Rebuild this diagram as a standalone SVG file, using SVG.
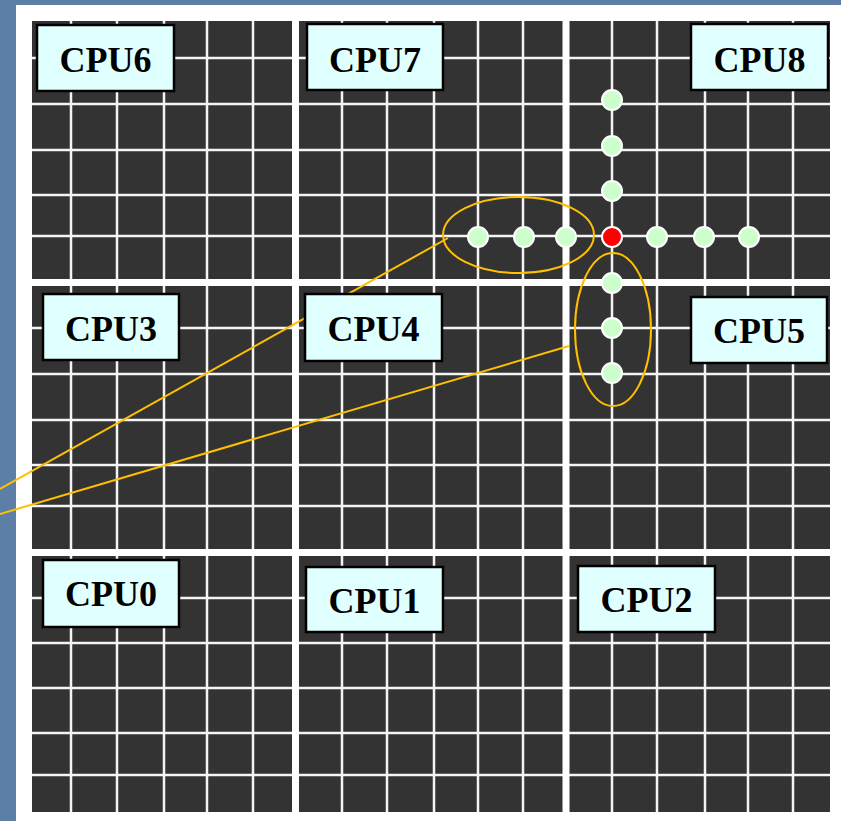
<svg xmlns="http://www.w3.org/2000/svg" width="841" height="821" viewBox="0 0 841 821">
<defs>
<style>
.grid{stroke:#f4f4f4;stroke-width:2.5;fill:none}
.gap{stroke:#ffffff;fill:none}
.lbl rect{fill:#e0ffff;stroke:#000;stroke-width:2.5}
.lbl text{font-family:"Liberation Serif","Times New Roman",serif;font-weight:bold;font-size:36px;fill:#000;text-anchor:middle}
.conn{stroke:#ffc000;stroke-width:2;fill:none}
.g{fill:#ccffcc;stroke:#fff;stroke-width:2}
.r{fill:#ff0000;stroke:#fff;stroke-width:2}
</style>
</defs>
<rect x="0" y="0" width="841" height="821" fill="#5d7ea7"/>
<rect x="16" y="5" width="825" height="816" fill="#ffffff"/>
<g id="grid">
<rect x="32" y="21" width="798" height="791" fill="#333333"/>
<path class="grid" d="M71 21V812M117 21V812M164 21V812M207 21V812M253 21V812M342 21V812M387 21V812M434 21V812M478 21V812M523 21V812M612 21V812M657 21V812M705 21V812M748 21V812M793 21V812M32 58H830M32 104H830M32 150H830M32 195H830M32 236H830M32 328H830M32 374H830M32 420H830M32 465H830M32 506H830M32 598H830M32 643H830M32 688H830M32 733H830M32 775H830"/>
<path class="gap" stroke-width="7" d="M295.5 21V812M566 21V812M32 282.5H830M32 552.5H830"/>
</g>
<g id="connectors">
<line class="conn" x1="0" y1="489" x2="448" y2="238"/>
<line class="conn" x1="0" y1="514" x2="569" y2="346"/>
<ellipse class="conn" cx="518.5" cy="235" rx="75.5" ry="38"/>
<ellipse class="conn" cx="613" cy="329.5" rx="38" ry="76.5"/>
</g>
<g id="nodes">
<circle class="g" cx="612" cy="100" r="10"/>
<circle class="g" cx="612" cy="146" r="10"/>
<circle class="g" cx="612" cy="191" r="10"/>
<circle class="g" cx="478" cy="237" r="10"/>
<circle class="g" cx="524" cy="237" r="10"/>
<circle class="g" cx="566" cy="237" r="10"/>
<circle class="g" cx="657" cy="237" r="10"/>
<circle class="g" cx="704" cy="237" r="10"/>
<circle class="g" cx="749" cy="237" r="10"/>
<circle class="g" cx="612" cy="283" r="10"/>
<circle class="g" cx="612" cy="328" r="10"/>
<circle class="g" cx="612" cy="373" r="10"/>
<circle class="r" cx="612" cy="237" r="10"/>
</g>
<g id="cpu6" class="lbl"><rect x="37" y="25" width="137" height="66"/><text x="105.5" y="72">CPU6</text></g>
<g id="cpu7" class="lbl"><rect x="307" y="24" width="136" height="66"/><text x="375" y="72">CPU7</text></g>
<g id="cpu8" class="lbl"><rect x="691" y="24" width="137" height="66"/><text x="759.5" y="72">CPU8</text></g>
<g id="cpu3" class="lbl"><rect x="43" y="294" width="136" height="66"/><text x="111" y="341">CPU3</text></g>
<g id="cpu4" class="lbl"><rect x="305" y="294" width="137" height="67"/><text x="373.5" y="341">CPU4</text></g>
<g id="cpu5" class="lbl"><rect x="691" y="297" width="136" height="66"/><text x="759" y="343">CPU5</text></g>
<g id="cpu0" class="lbl"><rect x="43" y="560" width="136" height="67"/><text x="111" y="606">CPU0</text></g>
<g id="cpu1" class="lbl"><rect x="306" y="567" width="137" height="65"/><text x="374.5" y="613">CPU1</text></g>
<g id="cpu2" class="lbl"><rect x="578" y="566" width="137" height="66"/><text x="646.5" y="612">CPU2</text></g>
</svg>
